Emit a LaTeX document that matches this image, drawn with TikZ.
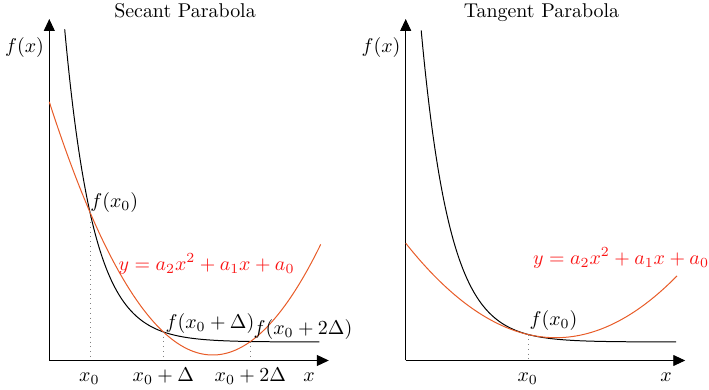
\documentclass[tikz,border=0pt]{standalone}
\usepackage{amsmath,amssymb}
\usepackage{tikz}
\usetikzlibrary{arrows.meta, positioning, calc}
\usepackage{xcolor}
\definecolor{fitcurve}{RGB}{232,92,40}
\definecolor{fitlabel}{RGB}{250,20,20}

\begin{document}
\begin{tikzpicture}[x=5bp, y=5bp,
  declare function={fexp(\x)=1.85+12.96*exp(-0.348*(\x-4.07));
                    psec(\x)=0.55+0.0948*(\x-16.34)*(\x-16.34);
                    ptan(\x)=2.28+0.042*(\x-15)*(\x-15);},
  axisline/.style={line width=0.5pt, -{Triangle[length=6pt,width=5.5pt]}},
  guide/.style={dotted, gray, line width=0.4pt},
  ticklbl/.style={anchor=base, inner sep=0pt},
  ptlbl/.style={anchor=base west, inner sep=0pt}]

  \useasboundingbox (0,0) rectangle (70.9,39);

  % Secant parabola
  \begin{scope}[shift={(4.93,2.95)}]
    \coordinate (o1) at (0,0);
    \coordinate (ytop1) at (0,34.15);
    \coordinate (xend1) at (27.95,0);
    \draw[axisline] (o1) -- (ytop1);
    \draw[axisline] (o1) -- (xend1);
    \node[anchor=base] (title1) at (13.57,34.3) {Secant Parabola};
    \node[anchor=base] (fx1) at (-2.48,30.75) {$f(x)$};
    \node[ticklbl] (xl1) at (25.97,-2.1) {$x$};

    \draw[line width=0.5pt, domain=1.54:27, samples=160, smooth] plot (\x,{fexp(\x)});
    \draw[fitcurve, line width=0.5pt, domain=0:27.14, samples=160, smooth] plot (\x,{psec(\x)});

    \coordinate (p0) at (4.07,{fexp(4.07)});
    \coordinate (p1) at (11.4,{fexp(11.4)});
    \coordinate (p2) at (20.1,{fexp(20.1)});
    \coordinate (t0) at (p0 |- o1);
    \coordinate (t1) at (p1 |- o1);
    \coordinate (t2) at (p2 |- o1);
    \draw[guide] (p0) -- (t0);
    \draw[guide] (p1) -- (t1);
    \draw[guide] (p2) -- (t2);

    \node[ticklbl] (lx0) at (4.0,-2.1) {$x_0$};
    \node[ticklbl] (lx1) at (11.4,-2.1) {$x_0+\Delta$};
    \node[ticklbl] (lx2) at (20.1,-2.1) {$x_0+2\Delta$};

    \node[ptlbl, yshift=2.5pt] (fp0) at (p0) {$f(x_0)$};
    \node[ptlbl, xshift=1pt, yshift=1.5pt] (fp1) at (p1) {$f(x_0+\Delta)$};
    \node[ptlbl, xshift=1.5pt, yshift=3.5pt] (fp2) at (p2) {$f(x_0+2\Delta)$};

    \node[fitlabel] (eq1) at (15.72,9.65) {$y=a_2x^2+a_1x+a_0$};
  \end{scope}

  % Tangent parabola
  \begin{scope}[shift={(40.57,2.95)}]
    \coordinate (o2) at (0,0);
    \coordinate (ytop2) at (0,34.15);
    \coordinate (xend2) at (27.95,0);
    \draw[axisline] (o2) -- (ytop2);
    \draw[axisline] (o2) -- (xend2);
    \node[anchor=base] (title2) at (13.58,34.3) {Tangent Parabola};
    \node[anchor=base] (fx2) at (-2.47,30.75) {$f(x)$};
    \node[ticklbl] (xl2) at (26.03,-2.1) {$x$};

    \draw[line width=0.5pt, domain=1.55:27.03, samples=160, smooth] plot (\x,{fexp(\x)});
    \draw[fitcurve, line width=0.5pt, domain=0:27.13, samples=160, smooth] plot (\x,{ptan(\x)});

    \coordinate (q0) at (12.26,{fexp(12.26)});
    \coordinate (s0) at (q0 |- o2);
    \draw[guide] (q0) -- (s0);

    \node[ticklbl] (lq0) at (12.2,-2.1) {$x_0$};
    \node[ptlbl, xshift=0.5pt, yshift=4.5pt] (fq0) at (q0) {$f(x_0)$};

    \node[fitlabel] (eq2) at (21.53,10.25) {$y=a_2x^2+a_1x+a_0$};
  \end{scope}
\end{tikzpicture}
\end{document}
